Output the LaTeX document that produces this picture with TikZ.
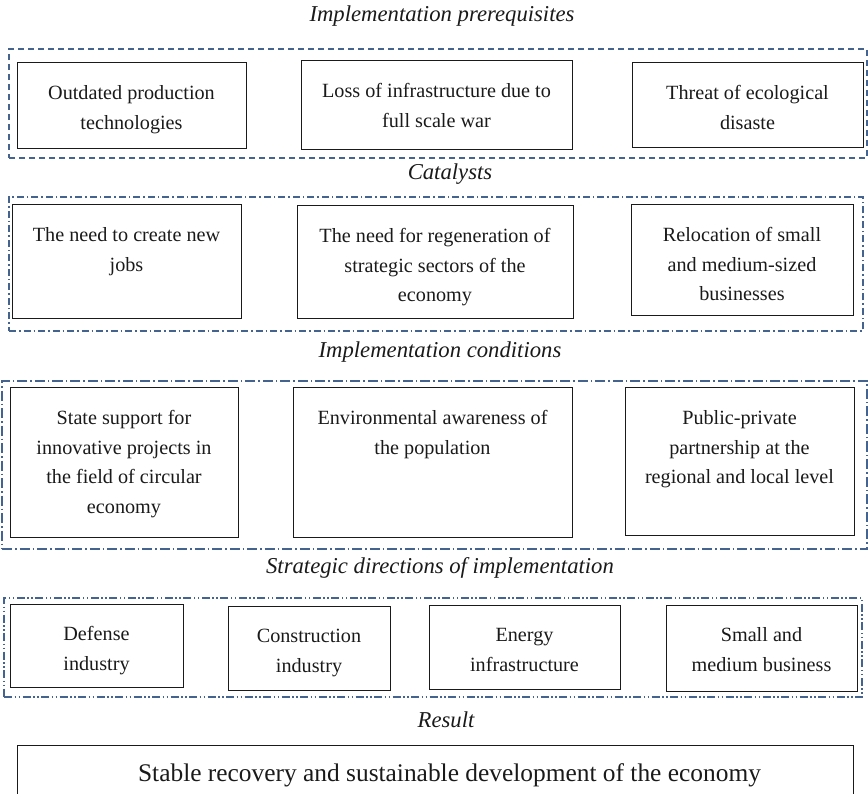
\documentclass[tikz,border=0pt]{standalone}
\usepackage{fontspec}
\setmainfont{Liberation Serif}
\definecolor{frameblue}{RGB}{68,99,143}
\definecolor{ink}{RGB}{26,26,26}

\tikzset{
  boxshape/.style={draw=ink, line width=1pt, rectangle, inner sep=0pt, outer sep=0pt},
  boxtext/.style={align=center, inner sep=0pt, text=ink, font=\fontsize{20.2}{29.5}\selectfont},
  grouplabel/.style={inner sep=0pt, anchor=base, text=ink, font=\fontsize{22.7}{27}\selectfont\itshape},
  framebase/.style={draw=frameblue, rectangle, inner sep=0pt, outer sep=0pt},
  frameA/.style={framebase, line width=2pt, dash pattern=on 6pt off 4pt},
  frameB/.style={framebase, line width=1.8pt, dash pattern=on 7pt off 3pt on 1.5pt off 3pt},
  frameC/.style={framebase, line width=1.2pt, dash pattern=on 10pt off 3pt on 1.5pt off 3pt},
  frameD/.style={framebase, line width=1.2pt, dash pattern=on 8pt off 2.5pt on 1.5pt off 2.5pt on 1.5pt off 2.5pt},
}

% rectangle node from corner (x1,y1) to (x2,y2), text hung from its top edge
\newcommand{\mkbox}[6]{%
  \node[boxshape, anchor=north west,
        minimum width={(#4-#2)*1pt}, minimum height={(#5-#3)*1pt}] (#1) at (#2,#3) {};
  \node[boxtext, anchor=north] (#1t) at ([yshift=-15.85pt]#1.north) {\strut #6};
}
% group frame from corner (x1,y1) to (x2,y2)
\newcommand{\mkframe}[6]{%
  \node[#2, anchor=north west,
        minimum width={(#5-#3)*1pt}, minimum height={(#6-#4)*1pt}] (#1) at (#3,#4) {};
}

\begin{document}
\begin{tikzpicture}[x=1pt, y=-1pt]
\useasboundingbox (0,0) rectangle (868,794);

% Implementation prerequisites
\node[grouplabel] (l1) at (442,22) {Implementation prerequisites};
\mkframe{f1}{frameA}{9}{49}{867}{158}
\mkbox{b11}{17}{63}{246}{149}{Outdated production\\technologies}
\mkbox{b12}{301}{61}{572}{150}{Loss of infrastructure due to\\full scale war}
\mkbox{b13}{632}{63}{863}{148}{Threat of ecological\\disaste}

% Catalysts
\node[grouplabel] (l2) at (450,180) {Catalysts};
\mkframe{f2}{frameB}{9}{197}{863}{331}
\mkbox{b21}{12}{205}{241}{319}{The need to create new\\jobs}
\mkbox{b22}{297}{206}{573}{319}{The need for regeneration of\\strategic sectors of the\\economy}
\mkbox{b23}{631}{205}{853}{316}{Relocation of small\\and medium-sized\\businesses}

% Implementation conditions
\node[grouplabel] (l3) at (440,358) {Implementation conditions};
\mkframe{f3}{frameC}{2}{381}{867}{549}
\mkbox{b31}{10}{388}{238}{537}{State support for\\innovative projects in\\the field of circular\\economy}
\mkbox{b32}{293}{388}{572}{537}{Environmental awareness of\\the population}
\mkbox{b33}{625}{388}{854}{535}{Public-private\\partnership at the\\regional and local level}

% Strategic directions of implementation
\node[grouplabel] (l4) at (440,573) {Strategic directions of implementation};
\mkframe{f4}{frameD}{4}{598}{862}{697}
\mkbox{b41}{10}{604}{183}{687}{Defense\\industry}
\mkbox{b42}{228}{606}{390}{690}{Construction\\industry}
\mkbox{b43}{429}{605}{620}{689}{Energy\\infrastructure}
\mkbox{b44}{666}{605}{857}{691}{Small and\\medium business}

% Result
\node[grouplabel] (l5) at (446,727) {Result};
\node[boxshape, anchor=north west, minimum width=836pt, minimum height=49pt] (res) at (17,745) {};
\node[inner sep=0pt, anchor=base, text=ink, font=\fontsize{25.4}{30}\selectfont] (rest) at (449.5,781)
  {Stable recovery and sustainable development of the economy};
\end{tikzpicture}
\end{document}
